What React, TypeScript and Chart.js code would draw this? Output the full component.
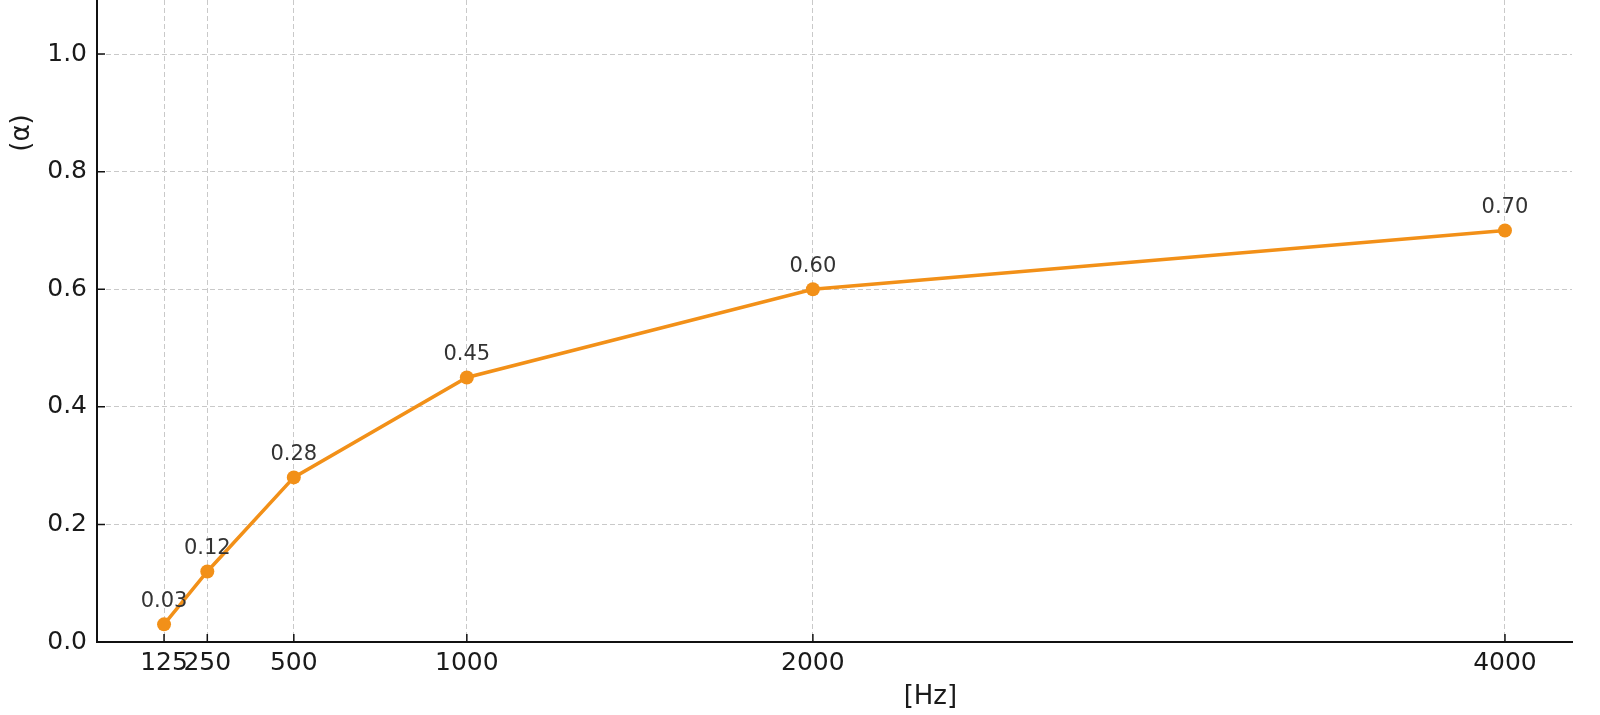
import React, { useEffect, useRef } from 'react';
import { Chart, registerables } from 'chart.js';

Chart.register(...registerables);

// Frequencies (Hz) and absorption coefficients
const FREQUENCIES = [125, 250, 500, 1000, 2000, 4000];
const ALPHA = [0.03, 0.12, 0.28, 0.45, 0.6, 0.7];
const Y_TICKS = [0, 0.2, 0.4, 0.6, 0.8, 1.0];

const X_TITLE = '[Hz]';
const Y_TITLE = '(α)';

const LINE_COLOR = '#F29018';
const FONT = 'DejaVu Sans';

// draws the inward ticks, the value labels and the two axis titles
const extrasPlugin = {
  id: 'extras',
  afterDatasetsDraw(chart: Chart) {
    const { ctx, chartArea, scales } = chart;
    const x = scales.x;
    const y = scales.y;

    ctx.save();
    ctx.strokeStyle = '#111';
    ctx.lineWidth = 1.5;
    ctx.beginPath();
    FREQUENCIES.forEach(f => {
      const px = x.getPixelForValue(f);
      ctx.moveTo(px, chartArea.bottom);
      ctx.lineTo(px, chartArea.bottom - 8);
    });
    Y_TICKS.forEach(v => {
      const py = y.getPixelForValue(v);
      ctx.moveTo(chartArea.left, py);
      ctx.lineTo(chartArea.left + 8, py);
    });
    ctx.stroke();

    // value labels above each point
    ctx.fillStyle = '#333';
    ctx.font = `21px "${FONT}"`;
    ctx.textAlign = 'center';
    ctx.textBaseline = 'alphabetic';
    FREQUENCIES.forEach((f, i) => {
      ctx.fillText(ALPHA[i].toFixed(2), x.getPixelForValue(f), y.getPixelForValue(ALPHA[i]) - 17);
    });

    // axis titles
    ctx.fillStyle = '#1a1a1a';
    ctx.font = `26px "${FONT}"`;
    ctx.textBaseline = 'middle';
    const w = chartArea.right - chartArea.left;
    ctx.fillText(X_TITLE, chartArea.left + w * 0.565, chartArea.bottom + 55);

    ctx.translate(chartArea.left - 75, chartArea.top + 133);
    ctx.rotate(-Math.PI / 2);
    ctx.fillText(Y_TITLE, 0, 0);
    ctx.restore();
  },
};

const AbsorptionChart: React.FC = () => {
  const chartRef = useRef<HTMLCanvasElement>(null);
  const chartInstance = useRef<Chart | null>(null);

  useEffect(() => {
    if (chartInstance.current) {
      chartInstance.current.destroy();
    }
    if (chartRef.current) {
      const ctx = chartRef.current.getContext('2d');
      if (ctx) {
        chartInstance.current = new Chart(ctx, {
          type: 'line',
          data: {
            datasets: [
              {
                data: FREQUENCIES.map((f, i) => ({ x: f, y: ALPHA[i] })),
                borderColor: LINE_COLOR,
                backgroundColor: LINE_COLOR,
                borderWidth: 3.5,
                pointRadius: 7,
                pointHoverRadius: 7,
                pointBorderWidth: 0,
                tension: 0,
                clip: false,
              },
            ],
          },
          options: {
            animation: false,
            responsive: true,
            maintainAspectRatio: false,
            layout: { autoPadding: false, padding: { top: 0, right: 28, bottom: 0, left: 0 } },
            plugins: {
              legend: { display: false },
              tooltip: { enabled: false },
            },
            scales: {
              x: {
                type: 'linear',
                min: -68.75,
                max: 4193.75,
                afterBuildTicks: scale => {
                  scale.ticks = FREQUENCIES.map(v => ({ value: v }));
                },
                afterFit: scale => {
                  scale.height = 73;
                  scale.paddingLeft = 0;
                  scale.paddingRight = 0;
                },
                ticks: {
                  autoSkip: false,
                  maxRotation: 0,
                  padding: 6,
                  color: '#1a1a1a',
                  font: { family: FONT, size: 25 },
                  callback: v => String(v),
                },
                grid: { color: '#c9c9c9', lineWidth: 1, drawTicks: false },
                border: { display: true, color: '#111', width: 2, dash: [5, 3] },
              },
              y: {
                min: 0,
                max: 1.092,
                afterBuildTicks: scale => {
                  scale.ticks = Y_TICKS.map(v => ({ value: v }));
                },
                afterFit: scale => {
                  scale.width = 97;
                  scale.paddingTop = 0;
                  scale.paddingBottom = 0;
                },
                ticks: {
                  padding: 10,
                  color: '#1a1a1a',
                  font: { family: FONT, size: 25 },
                  callback: v => Number(v).toFixed(1),
                },
                grid: { color: '#c9c9c9', lineWidth: 1, drawTicks: false },
                border: { display: true, color: '#111', width: 2, dash: [5, 3] },
              },
            },
          },
          plugins: [extrasPlugin],
        });
      }
    }
    return () => {
      if (chartInstance.current) {
        chartInstance.current.destroy();
        chartInstance.current = null;
      }
    };
  }, []);

  return (
    <div style={{ position: 'absolute', left: 0, top: 0, width: '1600px', height: '715px', background: '#fff' }}>
      <canvas ref={chartRef}></canvas>
    </div>
  );
};

export default function App() {
  return <AbsorptionChart />;
}
